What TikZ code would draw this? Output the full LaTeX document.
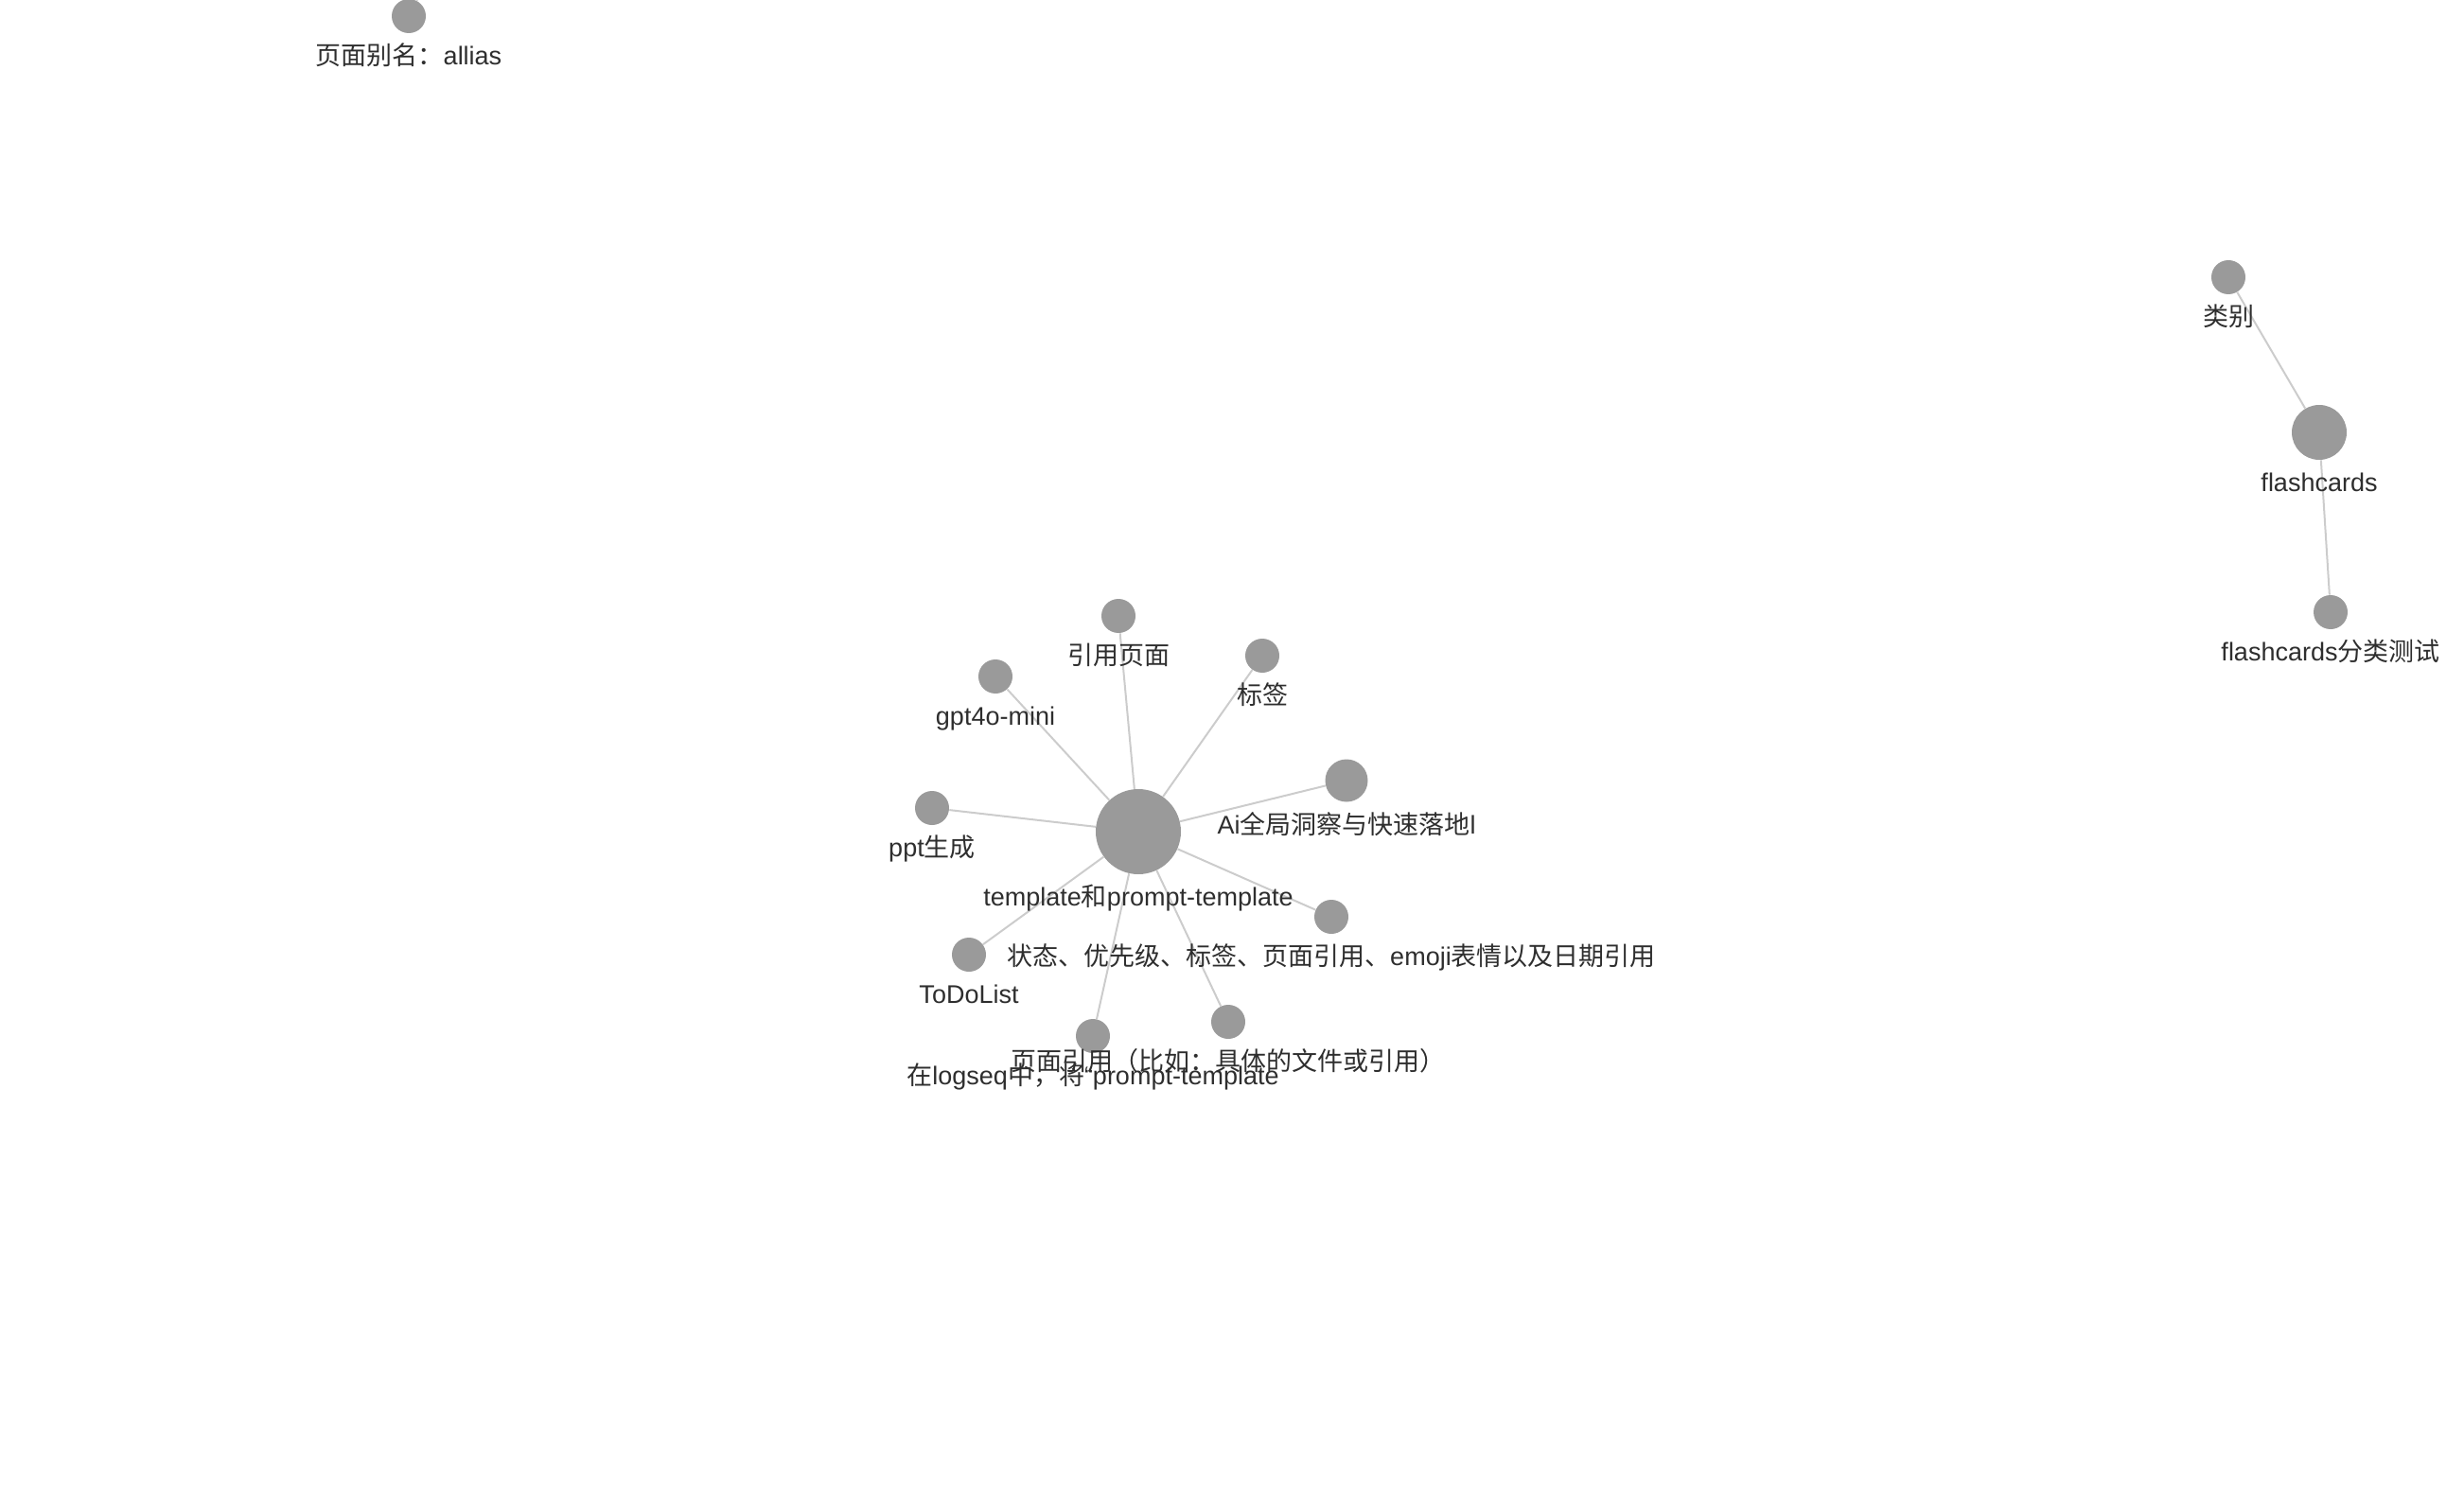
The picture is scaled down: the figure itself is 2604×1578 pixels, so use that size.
\documentclass[tikz,border=0pt]{standalone}
\usepackage{fontspec}
\setmainfont{Liberation Sans}
\newfontfamily\cjk{Noto Sans CJK SC}
\usetikzlibrary{backgrounds}
\definecolor{cinza}{HTML}{9A9A9A}
\definecolor{linha}{HTML}{CCCCCC}
\definecolor{texto}{HTML}{2E2E2E}
\newcommand{\zh}[1]{{\cjk #1}}
\tikzset{
  pagina/.style={circle, fill=cinza, inner sep=0pt, minimum size=#1},
  pagina/.default=18pt,
  rotulo/.style={font=\fontsize{13.5pt}{16pt}\selectfont, text=texto, inner sep=0pt, text height=10pt, text depth=3pt, label distance=6.5pt},
  ligacao/.style={draw=linha, line width=1pt}
}
\begin{document}
\begin{tikzpicture}[x=0.5pt,y=-0.5pt]
	% Definir a area da figura
	\useasboundingbox (0,0) rectangle (2604,1578);
	
	% Pagina isolada no topo
	\node[pagina, label={[rotulo]below:\zh{页面别名：}allias}] (allias) at (432,17) {};
	\coordinate (fora) at (452,-22);
	
	% Grupo dos flashcards
	\node[pagina, label={[rotulo]below:\zh{类别}}] (categoria) at (2355,293) {};
	\node[pagina=29pt, label={[rotulo]below:flashcards}] (flashcards) at (2451,457) {};
	\node[pagina, label={[rotulo]below:flashcards\zh{分类测试}}] (teste) at (2463,647) {};
	
	% Grupo do template (no central e vizinhos)
	\node[pagina=45pt, label={[rotulo]below:template\zh{和}prompt-template}] (template) at (1203,879) {};
	\node[pagina, label={[rotulo]below:\zh{引用页面}}] (refpag) at (1182,651) {};
	\node[pagina, label={[rotulo]below:\zh{标签}}] (tag) at (1334,693) {};
	\node[pagina, label={[rotulo]below:gpt4o-mini}] (gpt) at (1052,715) {};
	\node[pagina=22.5pt, label={[rotulo]below:Ai\zh{全局洞察与快速落地}l}] (ai) at (1423,825) {};
	\node[pagina, label={[rotulo]below:ppt\zh{生成}}] (ppt) at (985,854) {};
	\node[pagina, label={[rotulo]below:\zh{状态、优先级、标签、页面引用、}emoji\zh{表情以及日期引用}}] (estado) at (1407,969) {};
	\node[pagina, label={[rotulo]below:ToDoList}] (todo) at (1024,1009) {};
	\node[pagina, label={[rotulo]below:\zh{在}logseq\zh{中，将}“prompt-template}] (logseq) at (1155,1095) {};
	\node[pagina, label={[rotulo]below:\zh{页面引用（比如：具体的文件或引用）}}] (pagref) at (1298,1080) {};
	
	% Ligacoes por baixo dos nos
	\begin{scope}[on background layer]
		\draw[ligacao] (allias) -- (fora);
		\draw[ligacao] (categoria) -- (flashcards);
		\draw[ligacao] (flashcards) -- (teste);
		\foreach \vizinho in {refpag,tag,gpt,ai,ppt,estado,todo,logseq,pagref}
			\draw[ligacao] (template) -- (\vizinho);
	\end{scope}
	
\end{tikzpicture}
\end{document}
